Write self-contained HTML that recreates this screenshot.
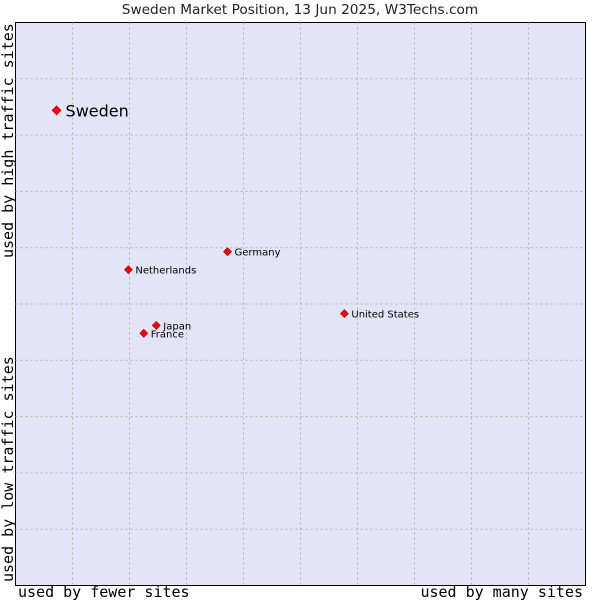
<!DOCTYPE html>
<html><head><meta charset="utf-8"><style>body{margin:0;background:#fff}svg{display:block}</style></head>
<body>
<svg id="c" width="600" height="600" xmlns="http://www.w3.org/2000/svg" font-family="'DejaVu Sans', sans-serif">
<text x="300" y="14" text-anchor="middle" font-size="13.7" fill="#222">Sweden Market Position, 13 Jun 2025, W3Techs.com</text>
<rect x="15.5" y="22.5" width="570" height="563" fill="#e3e5f7" stroke="#000"/>
<g id="grid"></g>
<g id="pts"></g>
<text x="18" y="597" font-family="'DejaVu Sans Mono', monospace" font-size="15">used by fewer sites</text>
<text x="583" y="597" text-anchor="end" font-family="'DejaVu Sans Mono', monospace" font-size="15">used by many sites</text>
<text transform="translate(13,582) rotate(-90)" font-family="'DejaVu Sans Mono', monospace" font-size="15">used by low traffic sites</text>
<text transform="translate(13,258) rotate(-90)" font-family="'DejaVu Sans Mono', monospace" font-size="15">used by high traffic sites</text>
</svg>
<script>
const countries = ["Sweden","Netherlands","Germany","United States","Japan","France"];
const usage = [7.2, 19.8, 37.2, 57.7, 24.7, 22.5];
const traffic = [84.4, 56.1, 59.3, 48.3, 46.2, 44.8];
const L=15.5,T=22.5,W=570,H=563;
const sx=v=>L+v/100*W, sy=v=>T+H-v/100*H;
const NS="http://www.w3.org/2000/svg";
const g=document.getElementById('grid');
for(let i=1;i<10;i++){
  const a=document.createElementNS(NS,'line');
  a.setAttribute('x1',sx(i*10));a.setAttribute('x2',sx(i*10));a.setAttribute('y1',T);a.setAttribute('y2',T+H);
  a.setAttribute('stroke','#b4b4b4');a.setAttribute('stroke-dasharray','2,3');
  
  
  g.appendChild(a);
  const b=document.createElementNS(NS,'line');
  b.setAttribute('y1',sy(i*10));b.setAttribute('y2',sy(i*10));b.setAttribute('x1',L);b.setAttribute('x2',L+W);
  b.setAttribute('stroke','#b4b4b4');b.setAttribute('stroke-dasharray','2,3');
  
  
  g.appendChild(b);
}
const p=document.getElementById('pts');
countries.forEach((c,i)=>{
  const x=sx(usage[i]),y=sy(traffic[i]),big=i===0;
  const d=document.createElementNS(NS,'path');
  const r=big?4.5:4;
  d.setAttribute('d',`M${x-r},${y}L${x},${y-r}L${x+r},${y}L${x},${y+r}Z`);
  d.setAttribute('fill','#f00');d.setAttribute('stroke','#a00');d.setAttribute('stroke-width','0.6');
  
  
  p.appendChild(d);
  const t=document.createElementNS(NS,'text');
  t.setAttribute('x',x+(big?9:7));t.setAttribute('y',y+(big?6:4));
  t.setAttribute('font-size',big?16:10);t.setAttribute('fill','#000');
  t.textContent=c;
  
  
  p.appendChild(t);
});
</script>
</body></html>
